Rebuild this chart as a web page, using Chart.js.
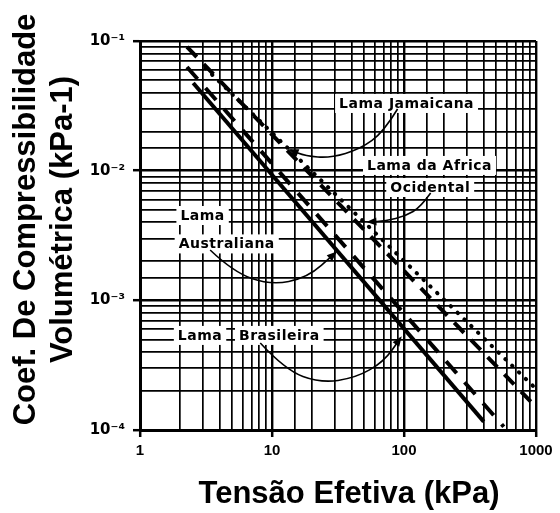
<!DOCTYPE html>
<html lang="pt-BR">
<head>
<meta charset="utf-8">
<title>Coeficiente de compressibilidade volumétrica</title>
<script src="https://cdn.jsdelivr.net/npm/chart.js@4.4.1/dist/chart.umd.min.js"></script>
<style>
  html, body { margin: 0; padding: 0; background: #fff; }
  canvas { display: block; }
</style>
</head>
<body>
<canvas id="grafico" width="560" height="513"></canvas>
<script>
// valores (escala log-log)
const xTicks = [1, 10, 100, 1000];
const xTickLabels = ['1', '10', '100', '1000'];
const yTicks = [1e-4, 1e-3, 1e-2, 1e-1];
const yTickLabels = ['10⁻⁴', '10⁻³', '10⁻²', '10⁻¹'];

// cada reta: tensão (kPa) no início e no fim e o coeficiente (kPa-1) correspondente
const tensaoContinua = [2.53, 402];
const coefContinua = [0.0474, 1.16e-4];
const tensaoTracejada = [2.27, 570];
const coefTracejada = [0.063, 1.06e-4];
const tensaoTracoLongo = [2.27, 915];
const coefTracoLongo = [0.09, 1.65e-4];
const tensaoPontilhada = [3.12, 948];
const coefPontilhada = [0.0619, 2.19e-4];

const tituloX = 'Tensão Efetiva (kPa)';
const tituloY = ['Coef. De Compressibilidade', 'Volumétrica (kPa-1)'];

// rótulos das lamas (centro do texto, em kPa / kPa-1)
const rotuloTexto = ['Lama Jamaicana', 'Lama da Africa', 'Ocidental', 'Lama', 'Australiana', 'Lama', 'Brasileira'];
const rotuloX = [104.6, 156, 158, 2.98, 4.54, 2.85, 11.36];
const rotuloY = [0.03327, 0.01107, 0.00748, 0.00455, 0.002748, 5.41e-4, 5.41e-4];

// setas curvas entre rótulo e reta
const setaJamaicanaX = [89.4, 70.0, 46.8, 27.7, 17.9, 13.8];
const setaJamaicanaY = [0.0299, 0.01988, 0.0147, 0.01253, 0.01298, 0.01444];
const setaAfricaX = [159.2, 133.7, 102.8, 72.5, 53.8];
const setaAfricaY = [0.006731, 0.00525, 0.004473, 0.004094, 0.004023];
const setaAustralianaX = [3.40, 5.08, 9.71, 18.5, 30.2];
const setaAustralianaY = [0.002446, 0.001656, 0.001314, 0.001488, 0.00232];
const setaBrasileiraX = [8.15, 12.62, 23.3, 42.9, 70.0, 94.2];
const setaBrasileiraY = [4.694e-4, 2.906e-4, 2.307e-4, 2.521e-4, 3.35e-4, 5.13e-4];

const pontos = (xs, ys) => xs.map((x, i) => ({ x: x, y: ys[i] }));
const indice = (v, lista) => lista.findIndex(t => Math.abs(v - t) / t < 1e-6);

const linha = (label, xs, ys, dash, cap) => ({
    label: label,
    data: pontos(xs, ys),
    showLine: true,
    borderColor: '#000',
    borderWidth: 4,
    borderDash: dash,
    borderCapStyle: cap || 'butt',
    pointRadius: 0,
    fill: false
});

const anotacoes = {
    id: 'anotacoes',
    afterDatasetsDraw(chart) {
        const { ctx, scales: { x, y } } = chart;
        ctx.save();

        // caixas brancas com o texto
        ctx.font = 'bold 14px "DejaVu Sans", sans-serif';
        ctx.letterSpacing = '0.5px';
        ctx.textAlign = 'center';
        ctx.textBaseline = 'middle';
        rotuloTexto.forEach((t, i) => {
            const px = x.getPixelForValue(rotuloX[i]);
            const py = y.getPixelForValue(rotuloY[i]);
            const w = ctx.measureText(t).width;
            ctx.fillStyle = '#fff';
            ctx.fillRect(px - w / 2 - 4, py - 9, w + 8, 19);
            ctx.fillStyle = '#000';
            ctx.fillText(t, px, py + 1);
        });

        // setas
        const setas = [
            [setaJamaicanaX, setaJamaicanaY],
            [setaAfricaX, setaAfricaY],
            [setaAustralianaX, setaAustralianaY],
            [setaBrasileiraX, setaBrasileiraY]
        ];
        ctx.strokeStyle = '#000';
        ctx.fillStyle = '#000';
        ctx.lineWidth = 1.6;
        setas.forEach(([xs, ys]) => {
            const p = xs.map((v, i) => [x.getPixelForValue(v), y.getPixelForValue(ys[i])]);
            ctx.beginPath();
            ctx.moveTo(p[0][0], p[0][1]);
            for (let i = 1; i < p.length - 1; i++) {
                const mx = (p[i][0] + p[i + 1][0]) / 2;
                const my = (p[i][1] + p[i + 1][1]) / 2;
                ctx.quadraticCurveTo(p[i][0], p[i][1], mx, my);
            }
            const fim = p[p.length - 1];
            const ant = p[p.length - 2];
            ctx.lineTo(fim[0], fim[1]);
            ctx.stroke();

            const ang = Math.atan2(fim[1] - ant[1], fim[0] - ant[0]);
            const c = Math.cos(ang), s = Math.sin(ang);
            ctx.beginPath();
            ctx.moveTo(fim[0] + 2 * c, fim[1] + 2 * s);
            ctx.lineTo(fim[0] - 8 * c - 4 * s, fim[1] - 8 * s + 4 * c);
            ctx.lineTo(fim[0] - 8 * c + 4 * s, fim[1] - 8 * s - 4 * c);
            ctx.closePath();
            ctx.fill();
        });
        ctx.restore();
    }
};

const titulos = {
    id: 'titulos',
    afterDraw(chart) {
        const { ctx, chartArea: a } = chart;
        ctx.save();
        ctx.fillStyle = '#000';
        ctx.font = 'bold 31px "Liberation Sans", Arial, sans-serif';
        ctx.textAlign = 'center';
        ctx.textBaseline = 'middle';
        ctx.fillText(tituloX, (a.left + a.right) / 2 + 11, a.bottom + 64);
        ctx.translate(a.left - 114, (a.top + a.bottom) / 2 - 16);
        ctx.rotate(-Math.PI / 2);
        tituloY.forEach((t, i) => ctx.fillText(t, 0, i * 37));
        ctx.restore();
    }
};

const gradeEixo = (marcos) => ({
    color: '#000',
    lineWidth: c => (c.tick && indice(c.tick.value, marcos) >= 0 ? 2.4 : 1.7),
    tickLength: 7,
    tickWidth: 2.5,
    tickColor: c => (c.tick && indice(c.tick.value, marcos) >= 0 ? '#000' : 'rgba(0,0,0,0)')
});

new Chart(document.getElementById('grafico'), {
    type: 'scatter',
    data: {
        datasets: [
            linha('Lama Brasileira', tensaoContinua, coefContinua, []),
            linha('Lama Australiana', tensaoTracejada, coefTracejada, [16, 12]),
            linha('Lama Jamaicana', tensaoTracoLongo, coefTracoLongo, [14, 10]),
            linha('Lama da Africa Ocidental', tensaoPontilhada, coefPontilhada, [0.5, 9], 'round')
        ]
    },
    options: {
        responsive: false,
        animation: false,
        devicePixelRatio: 1,
        layout: { padding: { top: 41, right: 24, left: 0, bottom: 0 } },
        plugins: {
            legend: { display: false },
            tooltip: { enabled: false }
        },
        scales: {
            x: {
                type: 'logarithmic',
                min: 1,
                max: 1000,
                afterFit: s => { s.height = 83; },
                border: { color: '#000', width: 3 },
                grid: gradeEixo(xTicks),
                ticks: {
                    autoSkip: false,
                    maxRotation: 0,
                    padding: 5,
                    color: '#000',
                    font: { family: '"Liberation Sans", Arial, sans-serif', size: 15, weight: 'bold' },
                    callback: v => {
                        const i = indice(v, xTicks);
                        return i < 0 ? '' : xTickLabels[i];
                    }
                }
            },
            y: {
                type: 'logarithmic',
                min: 1e-4,
                max: 1e-1,
                afterFit: s => { s.width = 140; },
                border: { color: '#000', width: 3 },
                grid: gradeEixo(yTicks),
                ticks: {
                    autoSkip: false,
                    padding: 8,
                    color: '#000',
                    font: { family: '"DejaVu Sans", sans-serif', size: 15, weight: 'bold' },
                    callback: v => {
                        const i = indice(v, yTicks);
                        return i < 0 ? '' : yTickLabels[i];
                    }
                }
            }
        }
    },
    plugins: [anotacoes, titulos]
});
</script>
</body>
</html>
